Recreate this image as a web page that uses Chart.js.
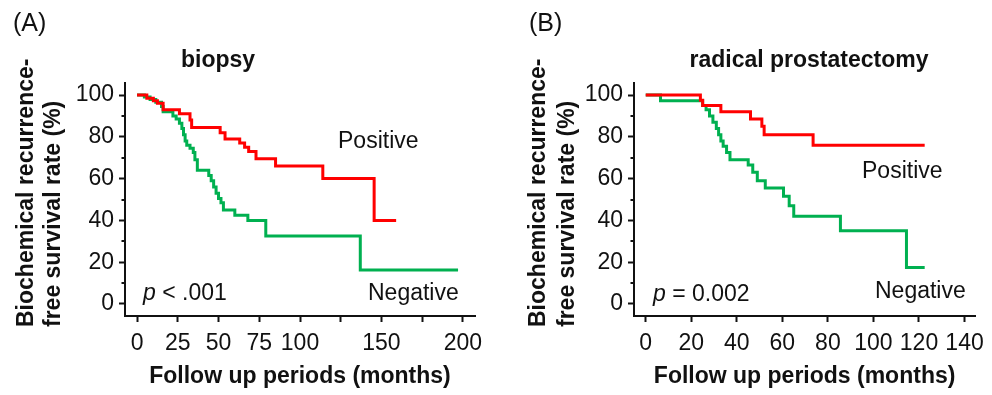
<!DOCTYPE html>
<html>
<head>
<meta charset="utf-8">
<script src="https://cdn.jsdelivr.net/npm/chart.js@4.4.0/dist/chart.umd.min.js"></script>
<style>
html, body { margin: 0; padding: 0; background: #fff; }
#wrap { position: relative; width: 992px; height: 395px; overflow: hidden; }
canvas { position: absolute; top: 0; }
#chartA { left: 0; }
#chartB { left: 496px; }
</style>
</head>
<body>
<div id="wrap">
<canvas id="chartA" width="496" height="395"></canvas>
<canvas id="chartB" width="496" height="395"></canvas>
</div>
<script>
// (A) biopsy - Kaplan-Meier steps
const biopsyPosMonths = [0, 6, 10, 12.5, 16, 26, 32.5, 33.5, 51, 54, 63, 66, 68.5, 73, 85, 114, 145.5, 159];
const biopsyPosSurv = [100, 98.5, 97.3, 96, 93, 91, 88, 84.5, 82, 79, 77, 75, 73, 69.5, 66, 60, 40, 40];
const biopsyNegMonths = [0, 4.5, 8, 11.5, 15, 16, 22, 24, 26, 27.5, 28.5, 29.5, 30.5, 32.5, 34.5, 35.5, 37, 44, 45.5, 47, 48.5, 50, 51.5, 53, 60, 68, 79, 137, 197];
const biopsyNegSurv = [100, 99, 97.8, 96.5, 94.5, 92, 90, 88.5, 86.5, 84, 81, 78, 76, 74.5, 72.5, 69, 64, 61.5, 59, 56, 53, 50.5, 48.5, 45, 42.5, 40, 32.5, 16.3, 16.3];

// (B) radical prostatectomy
const rpPosMonths = [0, 24, 25, 33, 46, 51, 52, 73.5, 122.5];
const rpPosSurv = [100, 97.5, 95, 92, 88.5, 85, 81, 76, 76];
const rpNegMonths = [0, 6.5, 25, 26.5, 28, 29.5, 31, 32, 33, 34, 35.5, 37, 45, 47, 49, 52.5, 60.5, 63, 65, 85.5, 114.5, 122.5];
const rpNegSurv = [100, 97.3, 95, 93, 90, 87, 84, 81, 78, 75.5, 72.5, 69, 66.5, 63, 59, 55.5, 51.5, 47, 42, 35, 17.5, 17.5];

// axes
const xTicksA = [0, 25, 50, 75, 100, 125, 150, 175, 200];
const xTickLabelsA = ['0', '25', '50', '75', '100', '', '150', '', '200'];
const xTicksB = [0, 20, 40, 60, 80, 100, 120, 140];
const xTickLabelsB = ['0', '20', '40', '60', '80', '100', '120', '140'];
const yTicks = [0, 20, 40, 60, 80, 100];
const yMinorTicks = [10, 30, 50, 70, 90];

const FONT = '"Liberation Sans", Arial, Helvetica, sans-serif';
const INK = '#111111';
const RED = '#ff0000';
const GREEN = '#00b050';

function toPoints(xs, ys) {
  return xs.map((x, i) => ({ x: x, y: ys[i] }));
}

// free text + minor ticks
const textPlugin = {
  id: 'panelText',
  afterDraw(chart) {
    const o = chart.options.plugins.panelText;
    const ctx = chart.ctx;
    ctx.save();
    ctx.fillStyle = INK;

    // minor y ticks
    const y = chart.scales.y;
    const left = chart.chartArea.left;
    ctx.strokeStyle = INK;
    ctx.lineWidth = 2;
    yMinorTicks.forEach(v => {
      const py = Math.round(y.getPixelForValue(v));
      ctx.beginPath();
      ctx.moveTo(left - 3.5, py);
      ctx.lineTo(left, py);
      ctx.stroke();
    });

    ctx.textBaseline = 'alphabetic';
    ctx.textAlign = 'left';

    ctx.font = '25px ' + FONT;
    ctx.fillText(o.letter, o.letterX, 31);

    ctx.font = 'bold 23px ' + FONT;
    ctx.textAlign = 'center';
    ctx.fillText(o.title, o.titleX, 67);

    // two-line y title, start-aligned at the bottom
    ctx.textAlign = 'left';
    o.yTitle.forEach((line, i) => {
      ctx.save();
      ctx.translate(o.yTitleX[i], 327);
      ctx.rotate(-Math.PI / 2);
      ctx.fillText(line, 0, 0);
      ctx.restore();
    });

    ctx.font = '23px ' + FONT;
    ctx.fillText('Positive', o.posX, o.posY);
    ctx.fillText('Negative', o.negX, o.negY);

    // p value with italic p
    ctx.font = 'italic 23px ' + FONT;
    ctx.fillText('p', o.pX, o.pY);
    const w = ctx.measureText('p').width;
    ctx.font = '23px ' + FONT;
    ctx.fillText(o.pText, o.pX + w, o.pY);

    ctx.restore();
  }
};

function buildChart(id, opt) {
  return new Chart(document.getElementById(id), {
    type: 'line',
    data: {
      datasets: [
        {
          label: 'Positive',
          data: toPoints(opt.posMonths, opt.posSurv),
          borderColor: RED,
          borderWidth: 3,
          stepped: 'before',
          pointRadius: 0,
          fill: false
        },
        {
          label: 'Negative',
          data: toPoints(opt.negMonths, opt.negSurv),
          borderColor: GREEN,
          borderWidth: 3,
          stepped: 'before',
          pointRadius: 0,
          fill: false
        }
      ]
    },
    options: {
      responsive: false,
      animation: false,
      events: [],
      layout: { padding: { top: 83, right: opt.padRight, bottom: 0, left: 0 } },
      plugins: {
        legend: { display: false },
        tooltip: { enabled: false },
        panelText: opt.text
      },
      scales: {
        x: {
          type: 'linear',
          min: opt.xMin,
          max: opt.xMax,
          afterFit: s => { s.height = 79; },
          afterBuildTicks: s => { s.ticks = opt.xTicks.map(v => ({ value: v })); },
          ticks: {
            autoSkip: false,
            maxRotation: 0,
            padding: 8,
            color: INK,
            font: { family: FONT, size: 23 },
            callback: (v, i) => opt.xTickLabels[i]
          },
          grid: { drawOnChartArea: false, tickLength: 6, tickWidth: 2, tickColor: INK },
          border: { color: INK, width: 2 },
          title: {
            display: true,
            text: 'Follow up periods (months)',
            color: INK,
            font: { family: FONT, size: 23, weight: 'bold' },
            padding: { top: 0, bottom: 5 }
          }
        },
        y: {
          type: 'linear',
          min: -5.75,
          max: 105.75,
          afterFit: s => { s.width = opt.yWidth; },
          afterBuildTicks: s => { s.ticks = yTicks.map(v => ({ value: v })); },
          ticks: {
            padding: 5,
            color: INK,
            font: { family: FONT, size: 23 }
          },
          grid: { drawOnChartArea: false, tickLength: 6, tickWidth: 2, tickColor: INK },
          border: { color: INK, width: 2 }
        }
      }
    },
    plugins: [textPlugin]
  });
}

buildChart('chartA', {
  posMonths: biopsyPosMonths, posSurv: biopsyPosSurv,
  negMonths: biopsyNegMonths, negSurv: biopsyNegSurv,
  xMin: -7.4, xMax: 207.4, xTicks: xTicksA, xTickLabels: xTickLabelsA,
  yWidth: 125, padRight: 21,
  text: {
    letter: '(A)', letterX: 13,
    title: 'biopsy', titleX: 218,
    yTitle: ['Biochemical recurrence-', 'free survival rate (%)'], yTitleX: [33, 60],
    posX: 338, posY: 148, negX: 368, negY: 300,
    pX: 143, pY: 300, pText: ' < .001'
  }
});

buildChart('chartB', {
  posMonths: rpPosMonths, posSurv: rpPosSurv,
  negMonths: rpNegMonths, negSurv: rpNegSurv,
  xMin: -5.15, xMax: 144.7, xTicks: xTicksB, xTickLabels: xTickLabelsB,
  yWidth: 138, padRight: 9,
  text: {
    letter: '(B)', letterX: 33,
    title: 'radical prostatectomy', titleX: 313,
    yTitle: ['Biochemical recurrence-', 'free survival rate (%)'], yTitleX: [49, 78],
    posX: 366, posY: 178, negX: 379, negY: 298,
    pX: 157, pY: 301, pText: ' = 0.002'
  }
});
</script>
</body>
</html>
